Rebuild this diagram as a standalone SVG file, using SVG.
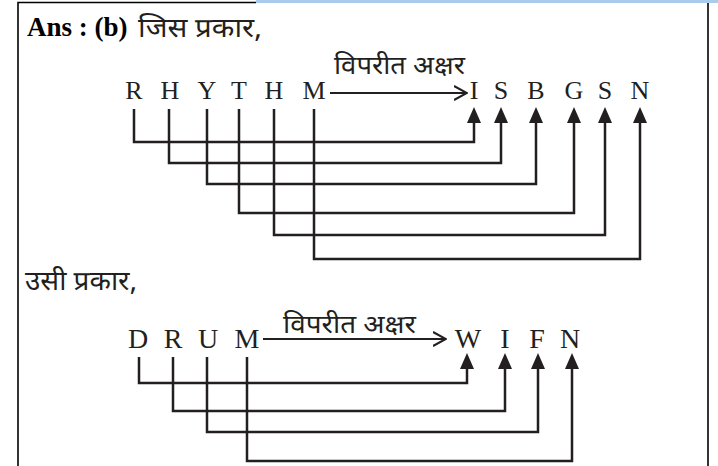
<svg xmlns="http://www.w3.org/2000/svg" width="718" height="466" viewBox="0 0 718 466">
<style>
.bg{fill:#ffffff}
.frame{fill:none;stroke:#000;stroke-width:1.6}
.bar{fill:#a9cbee}
.lt{font-family:"Liberation Serif","Times New Roman",serif;fill:#231f20;text-anchor:middle}
.top{font-size:26px}
.bot{font-size:28px}
.ans{font-family:"Liberation Serif","Times New Roman",serif;font-weight:bold;font-size:27px;fill:#000}
.hi{font-family:"Noto Sans Devanagari","Lohit Devanagari","Noto Sans","DejaVu Sans",sans-serif;fill:#231f20;font-weight:normal}
.con{fill:none;stroke:#231f20;stroke-width:2.5}
.harr{fill:none;stroke:#231f20;stroke-width:2}
</style>
<defs>
<marker id="tri" viewBox="0 0 16 14" refX="0" refY="7" markerWidth="16" markerHeight="14" markerUnits="userSpaceOnUse" orient="auto">
<path d="M0,0 L16,7 L0,14 z" fill="#231f20"/>
</marker>
<marker id="chev" viewBox="0 0 14 16" refX="13" refY="8" markerWidth="14" markerHeight="16" markerUnits="userSpaceOnUse" orient="auto">
<path d="M0,1 L13,8 L0,15" fill="none" stroke="#231f20" stroke-width="2"/>
</marker>
</defs>
<rect class="bg" x="0" y="0" width="718" height="466"/>
<g id="frame">
<path class="frame" d="M18,466 V2.5 H256"/>
<path class="frame" d="M708,2 V466"/>
<rect class="bar" x="256" y="0" width="462" height="3"/>
</g>
<g id="heading1">
<text class="ans" x="27" y="36">Ans : (b)</text>
<text class="hi" x="138" y="37" font-size="27" textLength="124" lengthAdjust="spacingAndGlyphs">जिस प्रकार,</text>
</g>
<g id="heading2">
<text class="hi" x="25" y="290" font-size="27" textLength="112" lengthAdjust="spacingAndGlyphs">उसी प्रकार,</text>
</g>
<g id="word-RHYTHM">
<text class="lt top" x="134" y="99">R</text>
<text class="lt top" x="170" y="99">H</text>
<text class="lt top" x="207" y="99">Y</text>
<text class="lt top" x="239" y="99">T</text>
<text class="lt top" x="274" y="99">H</text>
<text class="lt top" x="314" y="99">M</text>
</g>
<g id="word-ISBGSN">
<text class="lt top" x="474" y="99">I</text>
<text class="lt top" x="501" y="99">S</text>
<text class="lt top" x="536" y="99">B</text>
<text class="lt top" x="574" y="99">G</text>
<text class="lt top" x="605" y="99">S</text>
<text class="lt top" x="640" y="99">N</text>
</g>
<g id="label1">
<text class="hi" x="334" y="74" font-size="25" textLength="131" lengthAdjust="spacingAndGlyphs">विपरीत अक्षर</text>
</g>
<g id="word-DRUM">
<text class="lt bot" x="138" y="348">D</text>
<text class="lt bot" x="173" y="348">R</text>
<text class="lt bot" x="208" y="348">U</text>
<text class="lt bot" x="247" y="348">M</text>
</g>
<g id="word-WIFN">
<text class="lt bot" x="468" y="348">W</text>
<text class="lt bot" x="505" y="348">I</text>
<text class="lt bot" x="537" y="348">F</text>
<text class="lt bot" x="570" y="348">N</text>
</g>
<g id="label2">
<text class="hi" x="283" y="333" font-size="25" textLength="133" lengthAdjust="spacingAndGlyphs">विपरीत अक्षर</text>
</g>
<g id="connectors">
<path class="harr" d="M330,93 H467" marker-end="url(#chev)"/>
<path class="harr" d="M263,339 H446" marker-end="url(#chev)"/>
<path class="con" d="M134,109 V142 H474 V123" marker-end="url(#tri)"/>
<path class="con" d="M169,109 V163 H501 V123" marker-end="url(#tri)"/>
<path class="con" d="M207,109 V184 H536 V123" marker-end="url(#tri)"/>
<path class="con" d="M239,109 V213 H574 V123" marker-end="url(#tri)"/>
<path class="con" d="M274,109 V235 H605 V123" marker-end="url(#tri)"/>
<path class="con" d="M314,109 V259 H640 V123" marker-end="url(#tri)"/>
<path class="con" d="M139,357 V383 H467 V369" marker-end="url(#tri)"/>
<path class="con" d="M173,357 V411 H505 V369" marker-end="url(#tri)"/>
<path class="con" d="M207,357 V432 H538 V369" marker-end="url(#tri)"/>
<path class="con" d="M247,357 V461 H572 V369" marker-end="url(#tri)"/>
</g>
</svg>
